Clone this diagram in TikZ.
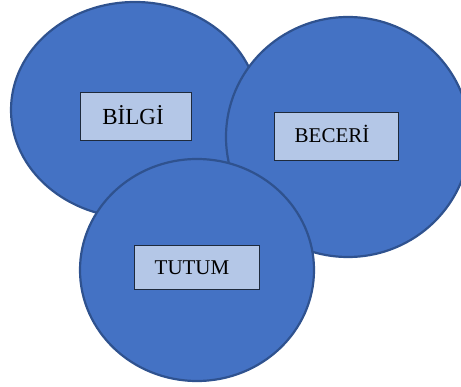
\documentclass[tikz,border=0pt]{standalone}
\usepackage{fontspec}
\setmainfont{Liberation Serif}
\usetikzlibrary{shapes.geometric}
\definecolor{circfill}{HTML}{4472C4}
\definecolor{circline}{HTML}{2F528F}
\definecolor{boxfill}{HTML}{B4C7E7}
\definecolor{boxline}{HTML}{1E2A3C}
\begin{document}
\begin{tikzpicture}[x=1pt,y=-1pt,
  blob/.style={ellipse, draw=circline, fill=circfill, line width=2.2pt, inner sep=0pt},
  tag/.style={rectangle, draw=boxline, fill=boxfill, line width=0.9pt, inner sep=0pt, text=black}]
\useasboundingbox (0,0) rectangle (461,387);
\node[blob, minimum width=248pt, minimum height=216pt] (c1) at (135,110) {};
\node[blob, minimum width=244pt, minimum height=240pt] (c2) at (348,137) {};
\node[blob, minimum width=234pt, minimum height=222pt] (c3) at (197,270) {};
\node[tag, minimum width=111pt, minimum height=48pt] (b1) at (135.5,116) {};
\node[font=\fontsize{23}{25}\selectfont, anchor=base] (t1) at (133,125) {BİLGİ};
\node[tag, minimum width=124pt, minimum height=48pt] (b2) at (336,136) {};
\node[font=\fontsize{21}{23}\selectfont, anchor=base] (t2) at (332,143) {BECERİ};
\node[tag, minimum width=125pt, minimum height=44pt] (b3) at (196.5,267) {};
\node[font=\fontsize{21}{23}\selectfont, anchor=base] (t3) at (192,274.5) {TUTUM};
\end{tikzpicture}
\end{document}
